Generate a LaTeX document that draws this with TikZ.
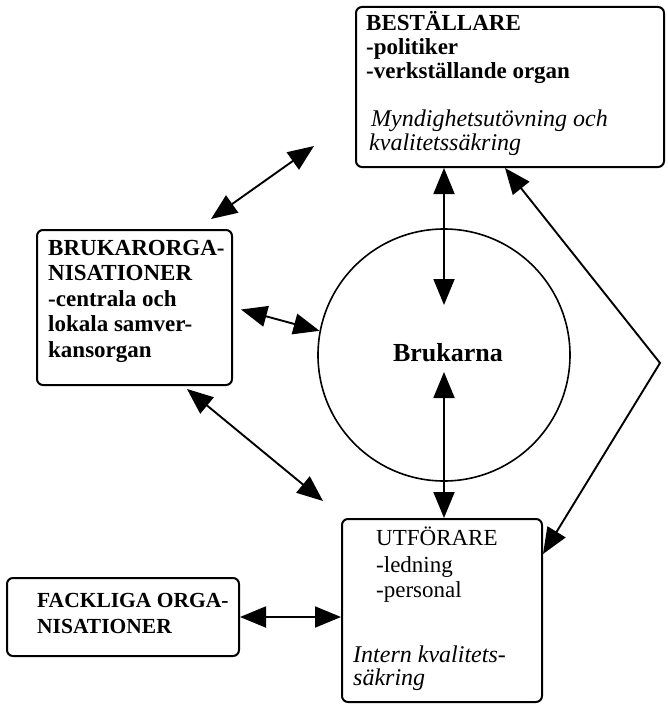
\documentclass[tikz,border=0pt]{standalone}
\usepackage{fontspec}
\setmainfont{Liberation Serif}
\usetikzlibrary{arrows.meta}

\tikzset{
  box/.style={draw, rounded corners=6pt, line width=2pt, inner sep=0pt},
  link/.style={{Triangle[length=26pt,width=21pt]}-{Triangle[length=26pt,width=21pt]}, line width=1.9pt},
  head/.style={anchor=base west, inner sep=0pt, font=\fontsize{23}{25}\selectfont\bfseries},
  plain/.style={anchor=base west, inner sep=0pt, font=\fontsize{23}{25}\selectfont},
  note/.style={anchor=base west, inner sep=0pt, font=\fontsize{24}{26}\selectfont\itshape}
}

\begin{document}
\begin{tikzpicture}[x=1pt, y=-1pt]
  \useasboundingbox (0,0) rectangle (668,706);
  % boxes and the circle
  \node[box, minimum width=308pt, minimum height=160pt] (bestallare) at (510,87) {};
  \node[box, minimum width=195pt, minimum height=155pt] (brukarorg) at (134.5,307.5) {};
  \node[draw, circle, line width=1.6pt, minimum size=252pt] (brukarna) at (444,355) {};
  \node[box, minimum width=200pt, minimum height=183pt] (utforare) at (442,610.5) {};
  \node[box, minimum width=232pt, minimum height=78pt] (fackliga) at (123,617) {};

  % texts
  \node[head] (b1) at (366,31) {BESTÄLLARE};
  \node[head] (b2) at (366,55) {-politiker};
  \node[head] (b3) at (366,79) {-verkställande organ};
  \node[note] (b4) at (371,126) {Myndighetsutövning och};
  \node[note] (b5) at (369,150) {kvalitetssäkring};

  \node[head] (o1) at (48,255) {BRUKARORGA-};
  \node[head] (o2) at (48,280) {NISATIONER};
  \node[head] (o3) at (48,306) {-centrala och};
  \node[head] (o4) at (48,331) {lokala samver-};
  \node[head] (o5) at (48,357) {kansorgan};

  \node[font=\fontsize{26}{28}\selectfont\bfseries] (bk) at (448,353) {Brukarna};

  \node[plain] (u1) at (376,545) {UTFÖRARE};
  \node[plain] (u2) at (376,572) {-ledning};
  \node[plain] (u3) at (376,597) {-personal};
  \node[note] (u4) at (353,662) {Intern kvalitets-};
  \node[note] (u5) at (353,685) {säkring};

  \node[head, font=\fontsize{21.5}{24}\selectfont\bfseries] (f1) at (37,607) {FACKLIGA ORGA-};
  \node[head, font=\fontsize{21.5}{24}\selectfont\bfseries] (f2) at (37,633) {NISATIONER};

  % connectors
  \coordinate (bend) at (660,363);
  \draw[link] ([shift={(-22pt,10pt)}]brukarorg.north east) -- ([shift={(-41pt,22pt)}]bestallare.south west);
  \draw[link] ([shift={(8pt,-2pt)}]brukarorg.east) -- (brukarna.169);
  \draw[link] ([shift={(-46pt,-3pt)}]brukarorg.south east) -- ([shift={(-18pt,17pt)}]utforare.north west);
  \draw[link] (bestallare.south -| brukarna.center) -- ([yshift=50pt]brukarna.center);
  \draw[link] ([yshift=-17pt]brukarna.center) -- (utforare.north -| brukarna.center);
  \draw[link] ([xshift=-5pt]bestallare.south) -- (bend) -- ([yshift=-36pt]utforare.north east);
  \draw[link] (fackliga.east) -- (utforare.west |- fackliga.east);
\end{tikzpicture}
\end{document}
